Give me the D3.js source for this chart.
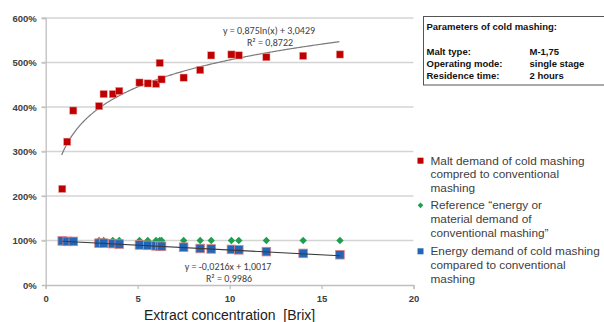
<!DOCTYPE html>
<html><head><meta charset="utf-8">
<script src="https://cdn.jsdelivr.net/npm/d3@7"></script>
<style>body{margin:0;background:#fff;} svg{display:block;font-family:"Liberation Sans",Arial,sans-serif;}</style>
</head><body>
<svg id="c" width="604" height="322"></svg>
<script>
const brix = [0.9,1.17,1.5,2.9,3.15,3.65,4.0,5.1,5.55,6.0,6.2,6.3,7.5,8.4,9.0,10.1,10.5,12.0,14.0,16.0];
const maltDemand = [2.16,3.22,3.92,4.02,4.29,4.29,4.36,4.55,4.53,4.52,4.99,4.62,4.66,4.83,5.16,5.18,5.16,5.12,5.15,5.18];
const reference = [1,1,1,1,1,1,1,1,1,1,1,1,1,1,1,1,1,1,1,1];
const energyDemand = [0.99,0.98,0.98,0.94,0.94,0.93,0.92,0.90,0.89,0.88,0.87,0.87,0.85,0.82,0.81,0.80,0.79,0.75,0.71,0.68];
const xTicks = [0,5,10,15,20];
const yTicks = [0,1,2,3,4,5,6];
const logFit = {a:0.875, b:3.0429, label:"y = 0,875ln(x) + 3,0429", r2:"R² = 0,8722"};
const linFit = {m:-0.0216, b:1.0017, label:"y = -0,0216x + 1,0017", r2:"R² = 0,9986"};
const legendItems = [
  {lines:["Malt demand of cold mashing","compred to conventional","mashing"], type:"red"},
  {lines:["Reference \u201cenergy or","material demand of","conventional mashing\u201d"], type:"green"},
  {lines:["Energy demand of cold mashing","compared to conventional","mashing"], type:"blue"}
];
const params = [["Malt type:","M-1,75"],["Operating mode:","single stage"],["Residence time:","2 hours"]];

const svg = d3.select("#c");
const x = d3.scaleLinear().domain([0,20]).range([45.7,413.5]);
const y = d3.scaleLinear().domain([0,6]).range([285,18]);
const RED="#c00000", GREEN="#1f9e50", BLUE="#2166b8";

// gridlines
svg.append("g").selectAll("line").data(yTicks.filter(d=>d>0)).join("line")
  .attr("x1",41.5).attr("x2",x(20)).attr("y1",d=>y(d)).attr("y2",d=>y(d))
  .attr("stroke","#d4d4d4").attr("stroke-width",1.3);

// axes
const yAxis = d3.axisLeft(y).tickValues(yTicks).tickFormat(d=>(d*100)+"%").tickSize(4).tickPadding(5);
const gy = svg.append("g").attr("transform",`translate(${x(0)},0)`).call(yAxis);
const xAxis = d3.axisBottom(x).tickValues(xTicks).tickSize(4).tickPadding(6);
const gx = svg.append("g").attr("transform",`translate(0,${y(0)})`).call(xAxis);
[gx,gy].forEach(g=>{
  g.select(".domain").attr("stroke","#bfbfbf").attr("stroke-width",1.3);
  g.selectAll(".tick line").attr("stroke","#bfbfbf").attr("stroke-width",1.3);
  g.selectAll("text").attr("fill","#404040").attr("font-size","9.5px").attr("font-weight","bold").attr("font-family","Liberation Sans, Arial, sans-serif");
});
gy.selectAll(".tick").filter(d=>d===0).select("line").remove();

svg.append("text").attr("x",x(10)).attr("y",319.5).attr("text-anchor","middle").style("white-space","pre")
  .attr("font-size","14px").attr("fill","#222").text("Extract concentration  [Brix]");

// trend lines
const logPts = d3.range(0.87,16.001,0.05).map(v=>[v, logFit.a*Math.log(v)+logFit.b]);
svg.append("path").datum(logPts).attr("fill","none").attr("stroke","#7a7a7a").attr("stroke-width",1.2)
  .attr("d",d3.line().x(d=>x(d[0])).y(d=>y(d[1])));

// markers
const pts = brix.map((b,i)=>({b,m:maltDemand[i],r:reference[i],e:energyDemand[i]}));
svg.append("g").selectAll("rect").data(pts).join("rect")
  .attr("x",-2.6).attr("y",-2.6).attr("width",5.2).attr("height",5.2)
  .attr("transform",d=>`translate(${x(d.b)},${y(d.r)}) rotate(45)`).attr("fill",GREEN);
svg.append("g").selectAll("rect").data(pts).join("rect")
  .attr("x",d=>x(d.b)-4.3).attr("y",d=>y(d.e)-4.3).attr("width",8.6).attr("height",8.6)
  .attr("fill",BLUE).attr("stroke","#e08080").attr("stroke-width",0.8);
const linPts = [0.9,16].map(v=>[v, linFit.m*v+linFit.b]);
svg.append("path").datum(linPts).attr("fill","none").attr("stroke","#3a3a3a").attr("stroke-width",1.1)
  .attr("d",d3.line().x(d=>x(d[0])).y(d=>y(d[1])));
svg.append("g").selectAll("rect").data(pts).join("rect")
  .attr("x",d=>x(d.b)-3.6).attr("y",d=>y(d.m)-3.6).attr("width",7.2).attr("height",7.2)
  .attr("fill",RED).attr("stroke","#e8a0a0").attr("stroke-width",0.5);

// fit labels
const fl = svg.append("g").attr("font-family","Carlito, Liberation Sans Narrow, Arial Narrow, sans-serif").attr("font-size","10px").attr("fill","#404040").attr("text-anchor","middle");
fl.append("text").attr("x",269).attr("y",33.5).text(logFit.label);
fl.append("text").attr("x",270).attr("y",45.5).text(logFit.r2);
fl.append("text").attr("x",228).attr("y",269.5).text(linFit.label);
fl.append("text").attr("x",229).attr("y",281.5).text(linFit.r2);

// params box
const pb = svg.append("g").attr("font-size","9.5px").attr("font-weight","bold").attr("fill","#111");
pb.append("rect").attr("x",423.5).attr("y",16.5).attr("width",185).attr("height",68.5).attr("fill","#fff").attr("stroke","#555").attr("stroke-width",1);
pb.append("text").attr("x",426.5).attr("y",30).text("Parameters of cold mashing:");
params.forEach((p,i)=>{
  pb.append("text").attr("x",426.5).attr("y",55+i*12).text(p[0]);
  pb.append("text").attr("x",529.5).attr("y",55+i*12).text(p[1]);
});

// legend
const lg = svg.append("g").attr("font-size","11.8px").attr("fill","#404040");
const legY = [160.7,205.3,251.3];
legendItems.forEach((it,i)=>{
  const cy = legY[i];
  if(it.type==="red") lg.append("rect").attr("x",417.5).attr("y",cy-3).attr("width",6).attr("height",6).attr("fill",RED);
  else if(it.type==="blue") lg.append("rect").attr("x",417.5).attr("y",cy-3).attr("width",6).attr("height",6).attr("fill",BLUE);
  else lg.append("rect").attr("x",-2).attr("y",-2).attr("width",4).attr("height",4).attr("transform",`translate(420.5,${cy}) rotate(45)`).attr("fill",GREEN);
  it.lines.forEach((t,j)=>{
    lg.append("text").attr("x",430.5).attr("y",cy+4+j*13.6).text(t);
  });
});
</script>
</body></html>
